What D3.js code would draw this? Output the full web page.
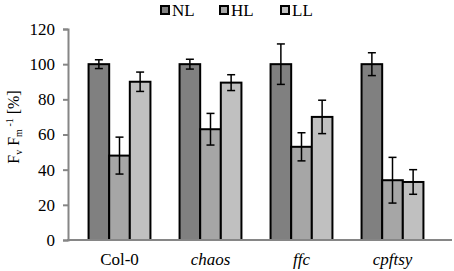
<!DOCTYPE html>
<html><head><meta charset="utf-8">
<script src="https://cdn.jsdelivr.net/npm/d3@7"></script>
<style>body{margin:0;background:#fff}svg{display:block}svg text{font-family:"Liberation Serif","Times New Roman","DejaVu Serif",serif}</style>
</head><body>
<script>
const categories = ["Col-0", "chaos", "ffc", "cpftsy"];
const italicCats = [false, true, true, true];
const seriesNames = ["NL", "HL", "LL"];
const nlValues = [100, 100, 100, 100];
const nlErrors = [2.5, 2.8, 11.5, 6.5];
const hlValues = [48, 63, 53, 34];
const hlErrors = [10.5, 9, 8, 13];
const llValues = [90, 89.5, 70, 33];
const llErrors = [5.5, 4.5, 9.5, 7];
const yTicks = [0, 20, 40, 60, 80, 100, 120];
const colors = ["#808080", "#a6a6a6", "#c0c0c0"];

const W = 454, H = 271;
const svg = d3.select("body").append("svg").attr("width", W).attr("height", H);

const y = d3.scaleLinear().domain([0, 120]).range([240, 29]);
const x0 = d3.scaleBand().domain(categories).range([74, 438]).paddingInner(0.32).paddingOuter(0.16);
const x1 = d3.scaleBand().domain(seriesNames).range([0, x0.bandwidth()]);

const vals = [nlValues, hlValues, llValues];
const errs = [nlErrors, hlErrors, llErrors];
const data = [];
categories.forEach((c, i) => seriesNames.forEach((s, j) => data.push({c, s, j, v: vals[j][i], e: errs[j][i]})));

// y axis
const yAxis = svg.append("g").attr("transform", "translate(68,0)")
  .call(d3.axisLeft(y).tickValues(yTicks).tickSize(5).tickPadding(8));
yAxis.attr("font-family", null);
yAxis.select(".domain").attr("stroke", "#868686").attr("stroke-width", 2);
yAxis.selectAll(".tick line").attr("stroke", "#868686").attr("stroke-width", 2);
yAxis.selectAll(".tick text").attr("font-size", 17).attr("fill", "#000");

// bars
svg.append("g").selectAll("rect").data(data).join("rect")
  .attr("x", d => x0(d.c) + x1(d.s))
  .attr("y", d => y(d.v))
  .attr("width", x1.bandwidth())
  .attr("height", d => y(0) - y(d.v))
  .attr("fill", d => colors[d.j])
  .attr("stroke", "#000").attr("stroke-width", 2);

// error bars
const eg = svg.append("g").attr("stroke", "#000").attr("stroke-width", 1.5);
data.forEach(d => {
  const cx = x0(d.c) + x1(d.s) + x1.bandwidth() / 2;
  eg.append("line").attr("x1", cx).attr("x2", cx).attr("y1", y(d.v + d.e)).attr("y2", y(d.v - d.e));
  eg.append("line").attr("x1", cx - 4).attr("x2", cx + 4).attr("y1", y(d.v + d.e)).attr("y2", y(d.v + d.e));
  eg.append("line").attr("x1", cx - 4).attr("x2", cx + 4).attr("y1", y(d.v - d.e)).attr("y2", y(d.v - d.e));
});

// x axis
svg.append("line").attr("x1", 67).attr("x2", 452).attr("y1", y(0)).attr("y2", y(0))
  .attr("stroke", "#868686").attr("stroke-width", 2);
svg.append("g").selectAll("text").data(categories).join("text")
  .attr("x", d => x0(d) + x0.bandwidth() / 2)
  .attr("y", 265)
  .attr("text-anchor", "middle")
  .attr("font-size", 17)
  .attr("font-style", (d, i) => italicCats[i] ? "italic" : "normal")
  .text(d => d);

// legend
const legX = [160, 219, 280];
const lg = svg.append("g");
seriesNames.forEach((s, j) => {
  lg.append("rect").attr("x", legX[j] + 1).attr("y", 6).attr("width", 8).attr("height", 8)
    .attr("fill", colors[j]).attr("stroke", "#000").attr("stroke-width", 2);
  lg.append("text").attr("x", legX[j] + 12).attr("y", 16)
    .attr("font-size", 17).text(s);
});

// y label
const yl = svg.append("text").attr("transform", "translate(19,127) rotate(-90)")
  .attr("text-anchor", "middle").attr("font-size", 16);
yl.append("tspan").text("F");
yl.append("tspan").attr("font-size", 10).attr("dy", 3).text("v");
yl.append("tspan").attr("dy", -3).text(" F");
yl.append("tspan").attr("font-size", 10).attr("dy", 3).text("m");
yl.append("tspan").attr("font-size", 10).attr("dy", -9).text(" -1");
yl.append("tspan").attr("dy", 6).text(" [%]");
</script>
</body></html>
